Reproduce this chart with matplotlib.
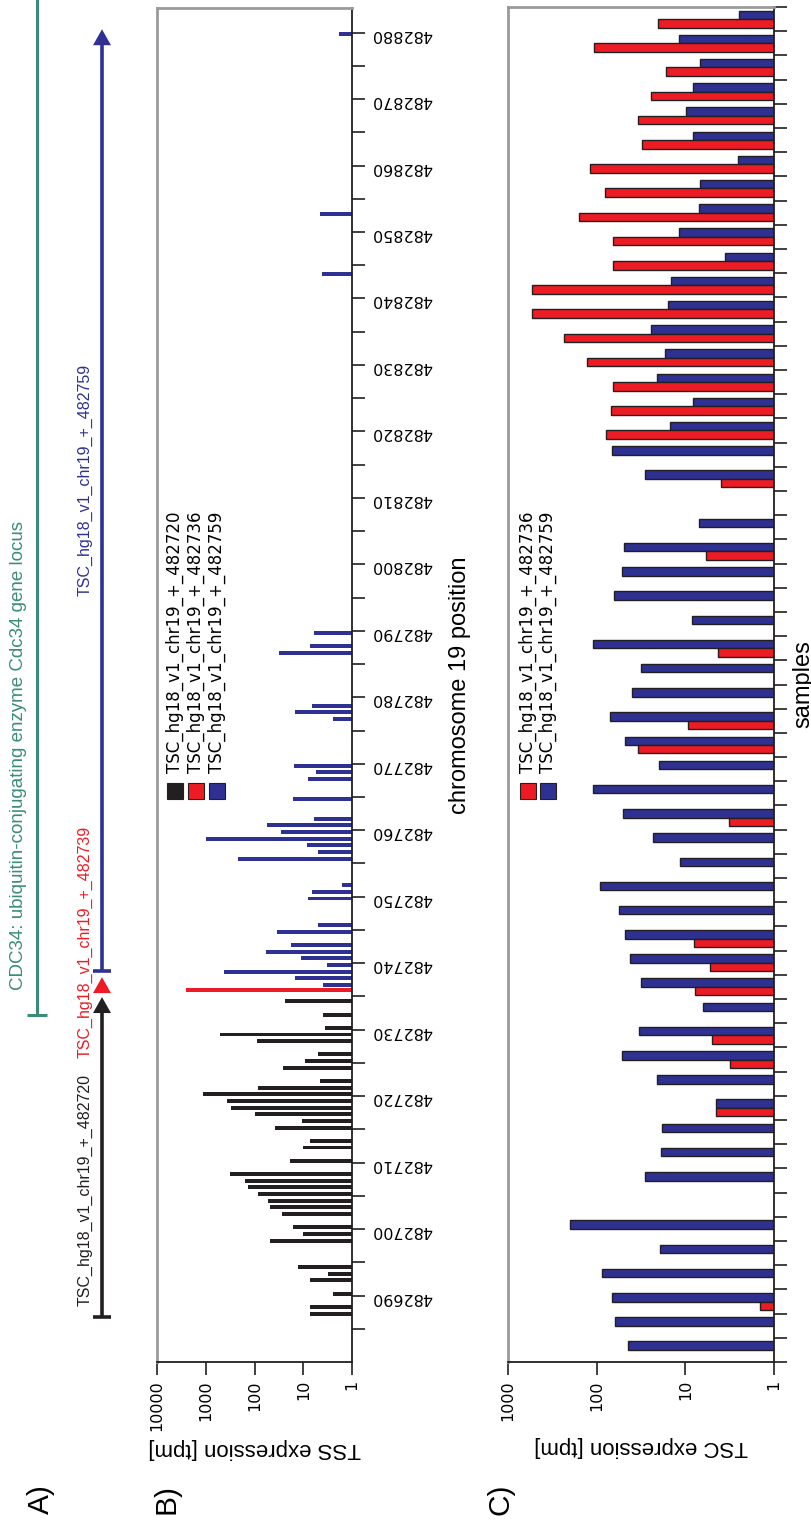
import numpy as np
import matplotlib
matplotlib.use('Agg')
import matplotlib.pyplot as plt
from matplotlib.patches import Rectangle, Polygon
from matplotlib.ticker import FixedLocator, NullLocator, FuncFormatter

# Panel B: TSS expression per chromosome 19 position (tpm)
black_pos = [482687, 482688, 482690, 482692, 482693, 482694, 482698, 482699, 482700,
             482702, 482703, 482704, 482705, 482706, 482707, 482708, 482710, 482712,
             482713, 482715, 482716, 482717, 482718, 482719, 482720, 482721, 482722,
             482724, 482725, 482726, 482728, 482729, 482730, 482732, 482734]
black_val = [7.3, 7.3, 2.45, 7.3, 3.1, 12.8, 48, 10.1, 16.2,
             27, 48, 53, 85, 136, 156, 318, 18.7, 10,
             7.3, 38, 10.6, 98, 300, 366, 1140, 85, 4.5,
             26, 9.2, 5, 88, 500, 3.5, 3.9, 24.2]
red_pos = [482736]
red_val = [2540]
blue_pos = [482737, 482738, 482739, 482740, 482741, 482742, 482743, 482745, 482746,
            482750, 482751, 482752, 482756, 482757, 482758, 482759, 482760, 482761,
            482762, 482765, 482768, 482769, 482770, 482777, 482778, 482779, 482787,
            482788, 482790, 482844, 482853, 482880]
blue_val = [3.9, 14.6, 413, 3.3, 11, 57.6, 17.7, 34.2, 4.9,
            8.1, 6.6, 1.58, 217, 5.0, 8.4, 985, 29.2, 55.8,
            6.1, 16, 8.1, 5.4, 15.5, 2.5, 14.6, 6.7, 31.6,
            7.2, 6.1, 4.1, 4.5, 1.85]

# Panel C: TSC expression per sample (tpm), listed top to bottom
c_blue = [2.46, 11.8, 6.9, 8.2, 9.9, 8.2, 2.55, 6.8, 7.0, 11.8, 3.54, 14.6, 15.8, 24.6,
          17, 20.9, 8.3, 15, 67.1, 28.5, 0, 7.07, 49.2, 51.8, 64.3, 8.4, 111, 31.6,
          40.0, 70.2, 48.3, 19.8, 111, 50.5, 23.2, 11.6, 91.7, 56.0, 47.9, 41.7, 31.6, 6.38,
          33.6, 51.8, 20.9, 4.55, 18.3, 19.0, 28.7, 0, 200, 19.5, 86.3, 66.6, 62.1, 44.7]
c_red = [20.5, 107, 16.7, 24.4, 34.5, 31.1, 119, 80.5, 157, 64.9, 65.4, 532, 541, 234,
         127, 65.4, 68.9, 78.5, 0, 3.93, 0, 0, 5.85, 0, 0, 0, 4.24, 0,
         0, 9.41, 34.5, 0, 0, 3.22, 0, 0, 0, 0, 7.91, 5.27, 7.78, 0,
         5.0, 3.13, 0, 4.55, 0, 0, 0, 0, 0, 0, 0, 1.45, 0, 0]

# Panel A: annotated features (start, end) along chr19
tsc_labels = ['TSC_hg18_v1_chr19_+_482720', 'TSC_hg18_v1_chr19_+_482739',
              'TSC_hg18_v1_chr19_+_482759']
tsc_start = [482686.8, 482735.5, 482738.8]
tsc_end = [482734.9, 482737.9, 482880.5]
tsc_text_at = [482688.5, 482725.7, 482795.3]
gene_label = 'CDC34: ubiquitin-conjugating enzyme Cdc34 gene locus'
gene_start, gene_end = 482732.2, 482885

BLACK, RED, BLUE, GREEN = '#231F20', '#ED1C24', '#2E3192', '#3A8C7A'
GREY = '#9A9A9A'
SANS = 'Liberation Sans'
TICKF = 'DejaVu Sans'

W, H = 812, 1524
fig = plt.figure(figsize=(W / 100, H / 100), dpi=100)


def px(x, y, w, h):
    return [x / W, 1 - (y + h) / H, w / W, h / H]


def style_axes(ax):
    for s in ('left', 'top'):
        ax.spines[s].set_color(GREY)
        ax.spines[s].set_linewidth(2)
    for s in ('right', 'bottom'):
        ax.spines[s].set_color(BLACK)
        ax.spines[s].set_linewidth(1.3)
    ax.tick_params(which='both', length=9, width=1.2, color=BLACK,
                   labelsize=11.5, labelfontfamily=TICKF)


# ---- panel B
axB = fig.add_axes(px(157, 8, 195, 1354))
axB.set_xscale('log')
axB.set_xlim(10000, 1)
axB.set_ylim(482680, 482883.7)
for pos, val, off, col in [(black_pos, black_val, 0.27, BLACK),
                           (red_pos, red_val, 0.0, RED),
                           (blue_pos, blue_val, -0.27, BLUE)]:
    axB.barh(np.array(pos) + off, np.array(val) - 1, left=1, height=0.6,
             color=col, linewidth=0)
style_axes(axB)
axB.yaxis.tick_right()
axB.yaxis.set_major_locator(FixedLocator(np.arange(482690, 482881, 10)))
axB.yaxis.set_minor_locator(FixedLocator(np.arange(482685, 482881, 10)))
axB.yaxis.set_major_formatter(FuncFormatter(lambda v, _: f'{v:.0f}'))
axB.tick_params(axis='y', labelrotation=180, pad=5)
axB.xaxis.set_major_locator(FixedLocator([1, 10, 100, 1000, 10000]))
axB.xaxis.set_minor_locator(NullLocator())
axB.xaxis.set_major_formatter(FuncFormatter(lambda v, _: f'{v:g}'))
axB.tick_params(axis='x', labelrotation=90, pad=4)
axB.set_xlabel('TSS expression [tpm]', rotation=180, fontsize=16, family=SANS)
axB.xaxis.set_label_coords(0.5, -(1449 - 1362) / 1354)
axB.xaxis.label.set_va('center')
axB.yaxis.set_label_position('right')
axB.set_ylabel('chromosome 19 position', rotation=90, fontsize=17, family=SANS)
axB.yaxis.set_label_coords((460 - 157) / 195, 0.5)
axB.yaxis.label.set_va('center')

# ---- panel C
axC = fig.add_axes(px(508, 7, 266, 1355))
axC.set_xscale('log')
axC.set_xlim(1000, 1)
n = len(c_blue)
axC.set_ylim(n - 0.5, -0.5)
idx = np.arange(n)
cb = np.array(c_blue)
cr = np.array(c_red)
mb = cb > 1
mr = cr > 1
axC.barh(idx[mb] - 0.175, cb[mb] - 1, left=1, height=0.35, color=BLUE,
         edgecolor=BLACK, linewidth=1)
axC.barh(idx[mr] + 0.175, cr[mr] - 1, left=1, height=0.35, color=RED,
         edgecolor=BLACK, linewidth=1)
style_axes(axC)
axC.yaxis.tick_right()
axC.yaxis.set_major_locator(NullLocator())
axC.yaxis.set_minor_locator(FixedLocator(np.arange(-0.5, n, 1)))
axC.xaxis.set_major_locator(FixedLocator([1, 10, 100, 1000]))
axC.xaxis.set_minor_locator(NullLocator())
axC.xaxis.set_major_formatter(FuncFormatter(lambda v, _: f'{v:g}'))
axC.tick_params(axis='x', labelrotation=90, pad=4)
axC.set_xlabel('TSC expression [tpm]', rotation=180, fontsize=16, family=SANS)
axC.xaxis.set_label_coords(0.5, -(1447 - 1362) / 1355)
axC.xaxis.label.set_va('center')
axC.yaxis.set_label_position('right')
axC.set_ylabel('samples', rotation=90, fontsize=17, family=SANS)
axC.yaxis.set_label_coords((803 - 508) / 266, 0.5)
axC.yaxis.label.set_va('center')

# ---- panel A (annotation track sharing panel B's coordinates)
axA = fig.add_axes(px(0, 8, 150, 1354))
axA.set_xlim(0, 150)
axA.set_ylim(axB.get_ylim())
axA.axis('off')
head = 2.4
for lab, s, e, t, col in zip(tsc_labels, tsc_start, tsc_end, tsc_text_at, [BLACK, RED, BLUE]):
    x = 102
    if e - s > head + 0.5:
        axA.plot([x, x], [s, e - head], color=col, lw=2.6, solid_capstyle='butt')
        axA.plot([x - 9, x + 9], [s, s], color=col, lw=2.6, solid_capstyle='butt')
    axA.add_patch(Polygon([(x - 9, e - head), (x + 9, e - head), (x, e)],
                          closed=True, color=col, lw=0))
    axA.text(85, t, lab, rotation=90, rotation_mode='anchor', ha='left', va='center',
             color=col, fontsize=11.5, family=SANS)
axA.plot([37, 37], [gene_start, gene_end], color=GREEN, lw=2.2, clip_on=False,
         solid_capstyle='butt')
axA.plot([27, 47], [gene_start, gene_start], color=GREEN, lw=2.2, solid_capstyle='butt')
axA.text(19, 482735.9, gene_label, rotation=90, rotation_mode='anchor', ha='left',
         va='center', color=GREEN, fontsize=13.5, family=SANS)

# ---- legends (drawn by hand to keep the rotated layout)
def legend(names, colors, xs):
    for name, col, x in zip(names, colors, xs):
        fig.add_artist(Rectangle(((x - 8) / W, 1 - 799 / H), 16 / W, 16 / H,
                                 transform=fig.transFigure, facecolor=col,
                                 edgecolor=BLACK, linewidth=0.8))
        fig.text(x / W, 1 - 773 / H, name, rotation=90, rotation_mode='anchor',
                 ha='left', va='center', fontsize=12, family=TICKF)


legend(['TSC_hg18_v1_chr19_+_482720', 'TSC_hg18_v1_chr19_+_482736',
        'TSC_hg18_v1_chr19_+_482759'], [BLACK, RED, BLUE], [175, 196, 217])
legend(['TSC_hg18_v1_chr19_+_482736', 'TSC_hg18_v1_chr19_+_482759'],
       [RED, BLUE], [528, 548])

# ---- panel letters
for lab, x in [('A)', 41), ('B)', 167), ('C)', 500)]:
    fig.text(x / W, 1 - 1499 / H, lab, rotation=90, ha='center', va='center',
             fontsize=21.5, family=SANS)

fig.savefig('out.png', dpi=100)
